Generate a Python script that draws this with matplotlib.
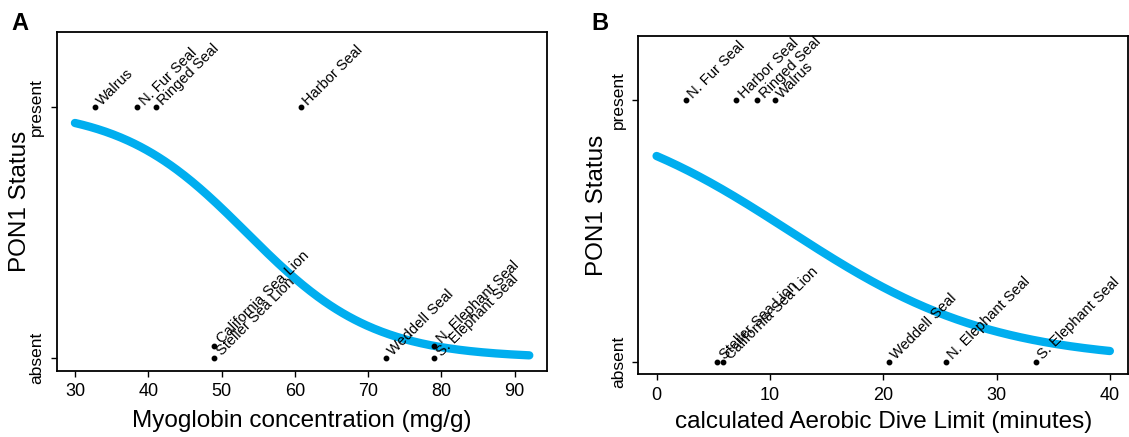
import numpy as np
import matplotlib
matplotlib.use('Agg')
import matplotlib.pyplot as plt

plt.rcParams['font.family'] = ['Liberation Sans', 'DejaVu Sans']

# panel A: myoglobin concentration (mg/g)
myo_names = ['Walrus', 'N. Fur Seal', 'Ringed Seal', 'Harbor Seal',
             'California Sea Lion', 'Steller Sea Lion', 'Weddell Seal',
             'N. Elephant Seal', 'S. Elephant Seal']
myo_x = [32.7, 38.5, 41.0, 60.8, 49.0, 49.0, 72.4, 79.0, 79.0]
myo_y = [1, 1, 1, 1, 0.05, 0, 0, 0.05, 0]
myo_fit = (6.2, -0.116)      # logistic fit (intercept, slope)
myo_range = (30, 92)

# panel B: calculated aerobic dive limit (minutes)
adl_names = ['N. Fur Seal', 'Harbor Seal', 'Ringed Seal', 'Walrus',
             'Steller Sea Lion', 'California Sea Lion', 'Weddell Seal',
             'N. Elephant Seal', 'S. Elephant Seal']
adl_x = [2.6, 7.05, 8.9, 10.45, 5.35, 5.9, 20.5, 25.5, 33.45]
adl_y = [1, 1, 1, 1, 0, 0, 0, 0, 0]
adl_fit = (1.31, -0.1115)
adl_range = (0, 40)

status_ticks = [0, 1]
status_labels = ['absent', 'present']

BLUE = '#00AEEF'


def logistic(x, coef):
    return 1.0 / (1.0 + np.exp(-(coef[0] + coef[1] * x)))


def panel(ax, names, x, y, coef, xr, ylim_top, xticks, xlabel):
    xs = np.linspace(xr[0], xr[1], 300)
    ax.plot(xs, logistic(xs, coef), color=BLUE, lw=6, solid_capstyle='round', zorder=2)
    ax.plot(x, y, 'o', color='black', ms=3.2, zorder=3)
    for n, xi, yi in zip(names, x, y):
        ax.annotate(n, (xi, yi), xytext=(3.3, 3.3), textcoords='offset points',
                    rotation=45, rotation_mode='anchor', ha='left', va='center',
                    fontsize=10.5, zorder=4)

    span = xr[1] - xr[0]
    ax.set_xlim(xr[0] - 0.04 * span, xr[1] + 0.04 * span)
    ax.set_ylim(-0.04 * ylim_top, ylim_top * 1.04)
    ax.set_xticks(xticks)
    ax.set_yticks(status_ticks)
    ax.set_yticklabels(status_labels, rotation=90, va='center')
    ax.tick_params(direction='out', length=4.5, width=1, labelsize=13, pad=4.5)
    ax.tick_params(axis='y', labelsize=12.5, pad=4.5)
    for s in ax.spines.values():
        s.set_linewidth(1.3)
    ax.set_xlabel(xlabel, fontsize=17.5, va='center')
    ax.set_ylabel('PON1 Status', fontsize=17.5, va='center')


fig = plt.figure(figsize=(11.29, 4.37), dpi=100)
ax1 = fig.add_axes([0.0503, 0.1517, 0.4346, 0.7744])
ax2 = fig.add_axes([0.5655, 0.1435, 0.4336, 0.7748])

panel(ax1, myo_names, myo_x, myo_y, myo_fit, myo_range, 1.25,
      [30, 40, 50, 60, 70, 80, 90], 'Myoglobin concentration (mg/g)')
panel(ax2, adl_names, adl_x, adl_y, adl_fit, adl_range, 1.2,
      [0, 10, 20, 30, 40], 'calculated Aerobic Dive Limit (minutes)')

ax1.yaxis.set_label_coords(-0.074, 0.5)
ax2.yaxis.set_label_coords(-0.085, 0.5)
ax1.xaxis.set_label_coords(0.5, -0.15)
ax2.xaxis.set_label_coords(0.5, -0.141)

ax1.text(-0.092, 1.007, 'A', transform=ax1.transAxes, fontsize=17,
         fontweight='bold', ha='left', va='baseline')
ax2.text(-0.097, 1.017, 'B', transform=ax2.transAxes, fontsize=17,
         fontweight='bold', ha='left', va='baseline')

fig.savefig('out.png', dpi=100)
